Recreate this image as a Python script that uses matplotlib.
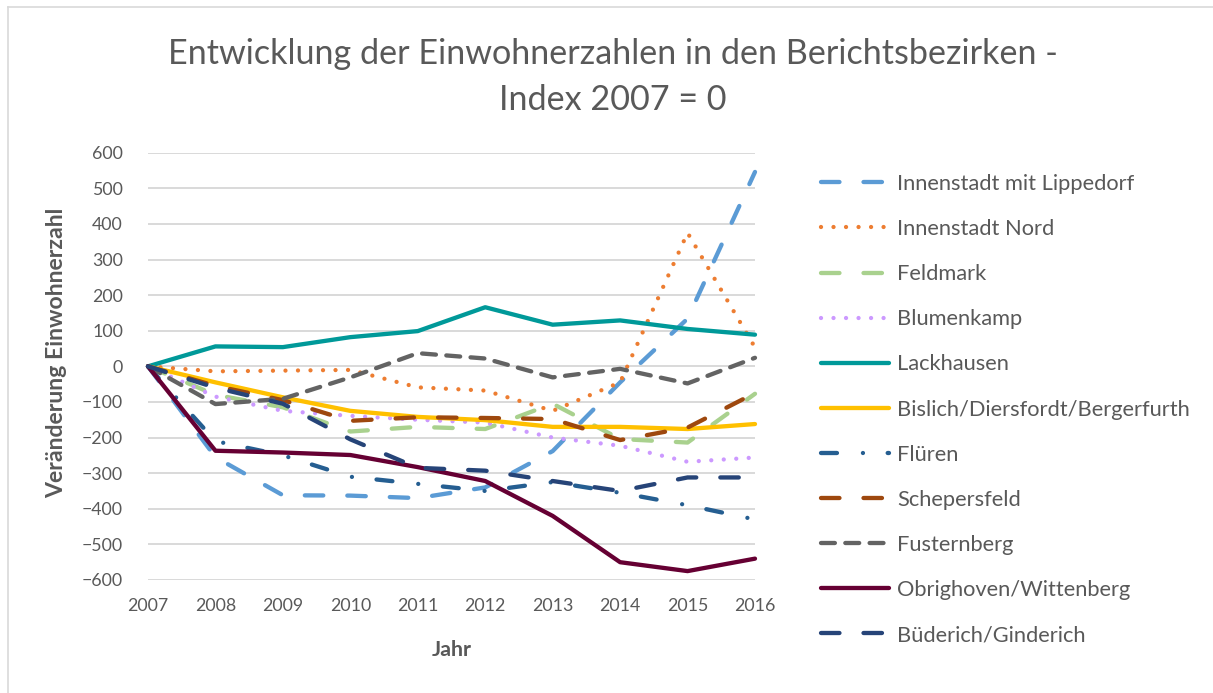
import matplotlib
matplotlib.use("Agg")
import matplotlib.pyplot as plt
from matplotlib.lines import Line2D

# ---------------- data ----------------
years = [2007, 2008, 2009, 2010, 2011, 2012, 2013, 2014, 2015, 2016]
series_names = [
    "Innenstadt mit Lippedorf", "Innenstadt Nord", "Feldmark", "Blumenkamp",
    "Lackhausen", "Bislich/Diersfordt/Bergerfurth", "Flüren", "Schepersfeld",
    "Fusternberg", "Obrighoven/Wittenberg", "Büderich/Ginderich",
]
innenstadt_lippedorf = [0, -255, -362, -363, -370, -340, -238, -45, 134, 546]
innenstadt_nord = [0, -14, -12, -10, -59, -68, -125, -45, 375, 53]
feldmark = [0, -80, -115, -183, -170, -176, -105, -204, -214, -77]
blumenkamp = [0, -85, -125, -139, -150, -158, -200, -223, -268, -256]
lackhausen = [0, 56, 54, 82, 99, 166, 117, 129, 105, 89]
bislich = [0, -45, -87, -125, -142, -151, -170, -170, -176, -162]
flueren = [0, -210, -250, -310, -330, -350, -325, -355, -390, -430]
schepersfeld = [0, -55, -95, -153, -143, -145, -148, -207, -172, -75]
fusternberg = [0, -106, -91, -31, 37, 22, -31, -7, -48, 24]
obrighoven = [0, -237, -242, -249, -283, -322, -420, -550, -575, -540]
buederich = [0, -60, -105, -205, -285, -293, -322, -350, -312, -312]
y_ticks = list(range(-600, 601, 100))

title_line1 = "Entwicklung der Einwohnerzahlen in den Berichtsbezirken -"
title_line2 = "Index 2007 = 0"
x_label = "Jahr"
y_label = "Veränderung Einwohnerzahl"

# ---------------- style ----------------
W, H = 1213, 693
FONT = "Lato"
TXT = "#595959"
plt.rcParams["lines.scale_dashes"] = False
plt.rcParams["font.family"] = [FONT, "DejaVu Sans"]

colors = ["#5B9BD5", "#ED7D31", "#A9D18E", "#CC99FF", "#009999", "#FFC000",
          "#255E91", "#9E480E", "#636363", "#660033", "#264478"]
LONG = (0, (13.3, 17.3))
DOT = (0, (0.01, 9.0))
DASH = (0, (10.0, 7.5))
LDD = (0, (11.5, 18.7, 0.01, 17.8))
styles = [LONG, DOT, LONG, DOT, "-", "-", LDD, LONG, DASH, "-", LONG]
LW = 3.1

fig = plt.figure(figsize=(W / 100, H / 100), dpi=100)
fig.patch.set_facecolor("white")
renderer = fig.canvas.get_renderer()


def fit_size(text, target_px, weight="normal", base=20):
    t = fig.text(0, 0, text, fontsize=base, fontweight=weight)
    w = t.get_window_extent(renderer).width
    t.remove()
    return base * target_px / w


def fx(px):
    return px / W


def fy(py):
    return 1 - py / H


title_fs = fit_size(title_line1, 895)
tick_fs = fit_size("2007", 41)
leg_fs = fit_size("Bislich/Diersfordt/Bergerfurth", 294)
lab_fs = fit_size(x_label, 40, weight="bold")
ylab_fs = fit_size(y_label, 290, weight="bold")

ax_left, ax_right, ax_top, ax_bottom = 148, 755, 152.7, 580
ax = fig.add_axes([fx(ax_left), fy(ax_bottom), (ax_right - ax_left) / W,
                   (ax_bottom - ax_top) / H])
ax.set_facecolor("none")

series = [innenstadt_lippedorf, innenstadt_nord, feldmark, blumenkamp, lackhausen,
          bislich, flueren, schepersfeld, fusternberg, obrighoven, buederich]
handles = []
for name, vals, c, ls in zip(series_names, series, colors, styles):
    ln, = ax.plot(years, vals, color=c, linestyle=ls, lw=LW,
                  dash_capstyle="round", solid_capstyle="round",
                  dash_joinstyle="round", solid_joinstyle="round",
                  label=name, clip_on=False, zorder=3)
    handles.append(ln)

ax.set_xlim(years[0], years[-1])
ax.set_ylim(y_ticks[0], y_ticks[-1])
ax.set_yticks(y_ticks)
ax.set_xticks(years)
ax.set_xticklabels([str(y) for y in years])
ax.yaxis.grid(True, color="#D9D9D9", lw=1.4, zorder=0)
ax.set_axisbelow(True)
for s in ax.spines.values():
    s.set_visible(False)
ax.tick_params(axis="both", length=0, labelsize=tick_fs, labelcolor=TXT)
ax.tick_params(axis="y", pad=18)
ax.tick_params(axis="x", pad=13)

# titles and axis labels
fig.text(fx(613), fy(64), title_line1, fontsize=title_fs, color=TXT,
         ha="center", va="baseline")
fig.text(fx(613), fy(110), title_line2, fontsize=title_fs, color=TXT,
         ha="center", va="baseline")
fig.text(fx(451.5), fy(650), x_label, fontsize=lab_fs, fontweight="bold",
         color=TXT, ha="center", va="center")
fig.text(fx(57), fy(353), y_label, fontsize=ylab_fs, fontweight="bold",
         color=TXT, ha="center", va="center", rotation=90)

# legend
leg_px = leg_fs * 100 / 72


def make_legend(anchor, spacing):
    lg = fig.legend(handles, series_names, loc="upper left",
                    bbox_to_anchor=anchor, bbox_transform=fig.transFigure,
                    frameon=False, borderpad=0, borderaxespad=0,
                    fontsize=leg_fs, handlelength=68 / leg_px,
                    handletextpad=8 / leg_px, labelspacing=spacing)
    for t in lg.get_texts():
        t.set_color(TXT)
    return lg


spacing = 0.9
anchor = (fx(821), fy(170))
leg = make_legend(anchor, spacing)
fig.canvas.draw()
ts = leg.get_texts()
e0 = ts[0].get_window_extent(renderer)
e1 = ts[-1].get_window_extent(renderer)
pitch = ((e0.y0 + e0.y1) / 2 - (e1.y0 + e1.y1) / 2) / (len(ts) - 1)
spacing += (45.1 - pitch) / leg_px
leg.remove()
leg = make_legend(anchor, spacing)
fig.canvas.draw()
e0 = leg.get_texts()[0].get_window_extent(renderer)
cy = H - (e0.y0 + e0.y1) / 2
dx = 897 - e0.x0
leg.remove()
anchor = (anchor[0] + dx / W, anchor[1] - (184 - cy) / H)
leg = make_legend(anchor, spacing)

# outer chart border (top and left visible)
fig.add_artist(Line2D([fx(8), fx(8)], [0, fy(7)], transform=fig.transFigure,
                      color="#D9D9D9", lw=1.2))
fig.add_artist(Line2D([fx(8), 1], [fy(7), fy(7)], transform=fig.transFigure,
                      color="#D9D9D9", lw=1.2))

fig.savefig("out.png", dpi=100, facecolor="white")
